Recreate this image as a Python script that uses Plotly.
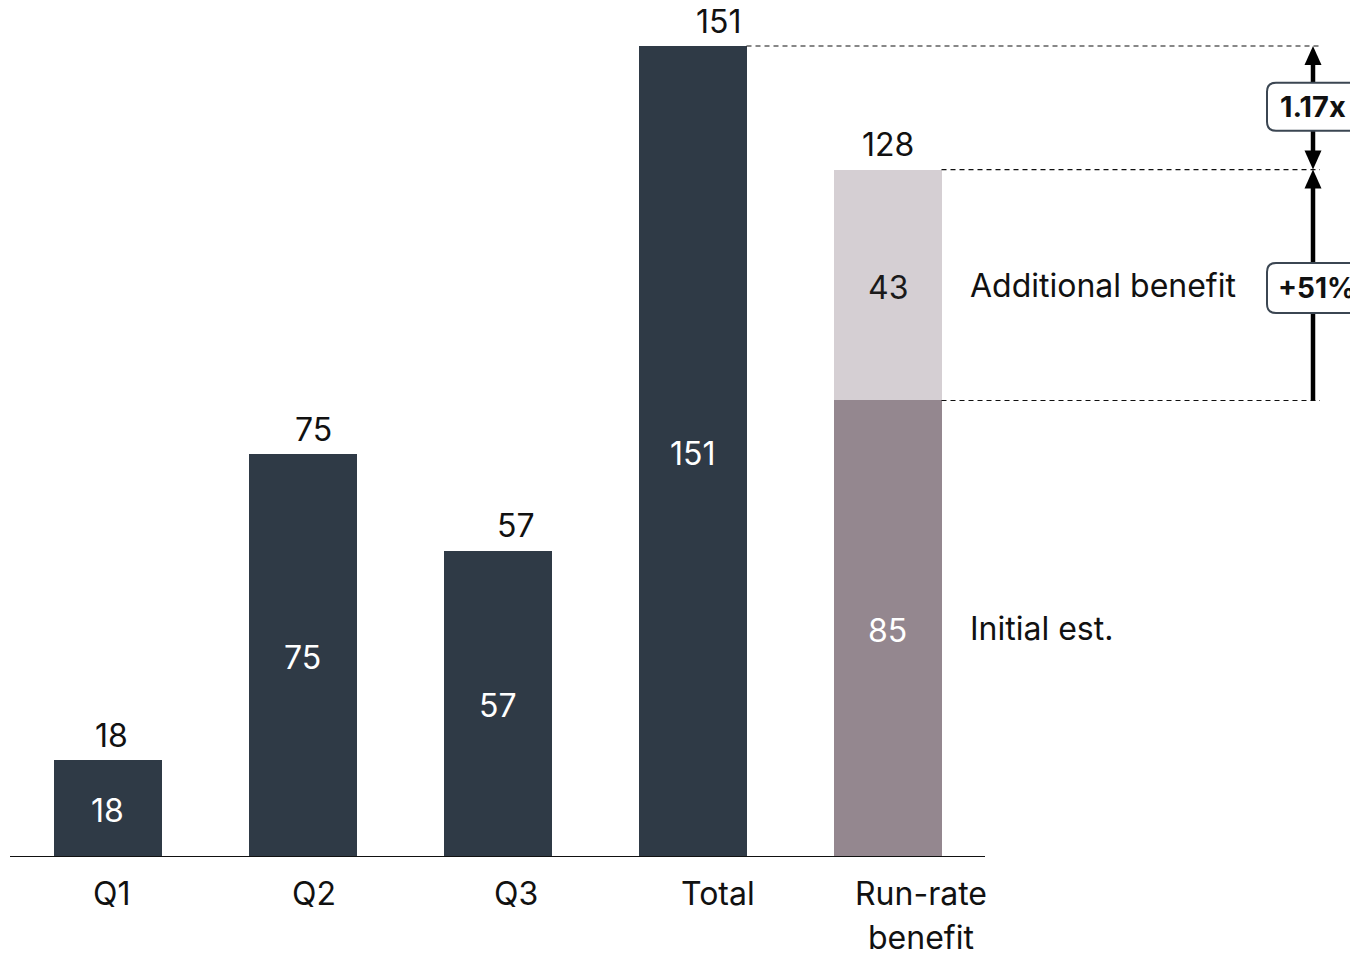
import plotly.graph_objects as go

# Quarterly benefit data
categories = ["Q1", "Q2", "Q3", "Total", "Run-rate<br>benefit"]
single_values = [18, 75, 57, 151]
initial_est = 85
additional = 43
run_rate_total = initial_est + additional
multiple_label = "1.17x"
uplift_label = "+51%"

DARK = "#2F3A46"
MAUVE = "#94878F"
LIGHT = "#D5CFD3"
FONT = "Inter"
FS = 32

W, H = 1350, 955
ML, MB = 10, 98
PX_PER_CAT = 195.0
BAR_W = 108 / PX_PER_CAT
plot_w = W - ML
x_max = -0.5 + plot_w / PX_PER_CAT
top_val = max(single_values)
px_per_unit = (H - MB - 46) / top_val
y_max = (H - MB) / px_per_unit


def px_x(p):
    """Horizontal pixel offset -> x data units."""
    return p / PX_PER_CAT


def px_y(p):
    """Vertical pixel offset -> y data units."""
    return p / px_per_unit


def fig_x(p):
    """Absolute figure pixel -> x data coordinate."""
    return (p - ML) / PX_PER_CAT - 0.5


fig = go.Figure()

xs = list(range(len(single_values)))
rr = len(single_values)
fig.add_trace(go.Bar(x=xs, y=single_values, width=BAR_W, marker_color=DARK,
                     marker_line_width=0, showlegend=False, hoverinfo="x+y"))
fig.add_trace(go.Bar(x=[rr], y=[initial_est], width=BAR_W, marker_color=MAUVE,
                     marker_line_width=0, showlegend=False, hoverinfo="y"))
fig.add_trace(go.Bar(x=[rr], y=[additional], width=BAR_W, marker_color=LIGHT,
                     marker_line_width=0, showlegend=False, hoverinfo="y"))

annotations = []
shapes = []


def label(x, y, text, color="#111", size=FS, yshift=0, xanchor="center", bold=False):
    annotations.append(dict(x=x, y=y, text=f"<b>{text}</b>" if bold else text,
                            showarrow=False, xanchor=xanchor, yanchor="middle",
                            yshift=yshift, font=dict(family=FONT, size=size, color=color)))


# values inside the bars
for i, v in enumerate(single_values):
    label(i, v / 2, str(v), color="white", yshift=-2)
label(rr, initial_est / 2, str(initial_est), color="white", yshift=-2)
label(rr, initial_est + additional / 2, str(additional), color="#1A1A1A", yshift=-2)

# category labels and totals sit on a slightly wider label grid
LABEL_STEP = 202.25 / PX_PER_CAT
LABEL_SHIFT = 4 / PX_PER_CAT
for i, v in enumerate(single_values):
    label(i * LABEL_STEP + LABEL_SHIFT, v, str(v), yshift=25)
label(rr, run_rate_total, str(run_rate_total), yshift=25)

for i, c in enumerate(categories):
    lx = i * LABEL_STEP + LABEL_SHIFT
    for j, line in enumerate(c.split("<br>")):
        label(lx, 0, line, yshift=-36 - 44 * j)

# segment labels to the right of the run-rate bar
seg_x = fig_x(968)
label(seg_x, initial_est + additional / 2, "Additional benefit", xanchor="left")
label(seg_x, initial_est / 2, "Initial est.", xanchor="left")

# baseline
shapes.append(dict(type="line", xref="x", yref="y", x0=-0.5, x1=4.5, y0=0, y1=0,
                   line=dict(color="#111", width=2)))

# dashed guides
guide_end = fig_x(1320)
for x0, yv in [(3 + BAR_W / 2, top_val), (rr + BAR_W / 2, run_rate_total),
               (rr + BAR_W / 2, initial_est)]:
    shapes.append(dict(type="line", xref="x", yref="y", x0=x0, x1=guide_end, y0=yv, y1=yv,
                       line=dict(color="#111", width=1.2, dash="5px,4px")))

# arrows
ax_x = fig_x(1313)
head_w = px_x(8.5)
head_h = px_y(19)


def head(tip_y, up):
    base = tip_y - head_h if up else tip_y + head_h
    return dict(type="path", xref="x", yref="y",
                path=f"M {ax_x - head_w} {base} L {ax_x} {tip_y} L {ax_x + head_w} {base} Z",
                fillcolor="#000", line=dict(width=0))


shapes.append(dict(type="line", xref="x", yref="y", x0=ax_x, x1=ax_x,
                   y0=run_rate_total + head_h * 0.8, y1=top_val - head_h * 0.8,
                   line=dict(color="#000", width=4.5)))
shapes.append(head(top_val, True))
shapes.append(head(run_rate_total, False))
shapes.append(dict(type="line", xref="x", yref="y", x0=ax_x, x1=ax_x,
                   y0=initial_est, y1=run_rate_total - head_h * 0.8,
                   line=dict(color="#000", width=4.5)))
shapes.append(head(run_rate_total, True))


def rounded_box(cy_val, h_px, shift_px=0):
    x0 = fig_x(1267)
    x1 = fig_x(1420)
    cy = cy_val - px_y(shift_px)
    y0 = cy - px_y(h_px / 2)
    y1 = cy + px_y(h_px / 2)
    rx, ry = px_x(9), px_y(9)
    path = (f"M {x0 + rx} {y1} L {x1 - rx} {y1} Q {x1} {y1} {x1} {y1 - ry} "
            f"L {x1} {y0 + ry} Q {x1} {y0} {x1 - rx} {y0} L {x0 + rx} {y0} "
            f"Q {x0} {y0} {x0} {y0 + ry} L {x0} {y1 - ry} Q {x0} {y1} {x0 + rx} {y1} Z")
    return dict(type="path", xref="x", yref="y", path=path, fillcolor="white",
                line=dict(color="#3B4652", width=2))


box1_y = (top_val + run_rate_total) / 2
box2_y = (run_rate_total + initial_est) / 2
shapes.append(rounded_box(box1_y, 48, shift_px=-1))
shapes.append(rounded_box(box2_y, 50, shift_px=3))
label(fig_x(1278), box1_y, multiple_label, size=29, yshift=1, xanchor="left", bold=True)
label(fig_x(1276), box2_y, uplift_label, size=28, yshift=-3, xanchor="left", bold=True)

fig.update_layout(
    width=W, height=H, barmode="stack",
    margin=dict(l=ML, r=0, t=0, b=MB),
    plot_bgcolor="white", paper_bgcolor="white",
    xaxis=dict(range=[-0.5, x_max], visible=False, fixedrange=True),
    yaxis=dict(range=[0, y_max], visible=False, fixedrange=True),
    shapes=shapes, annotations=annotations,
)

fig.write_html("out.html")
